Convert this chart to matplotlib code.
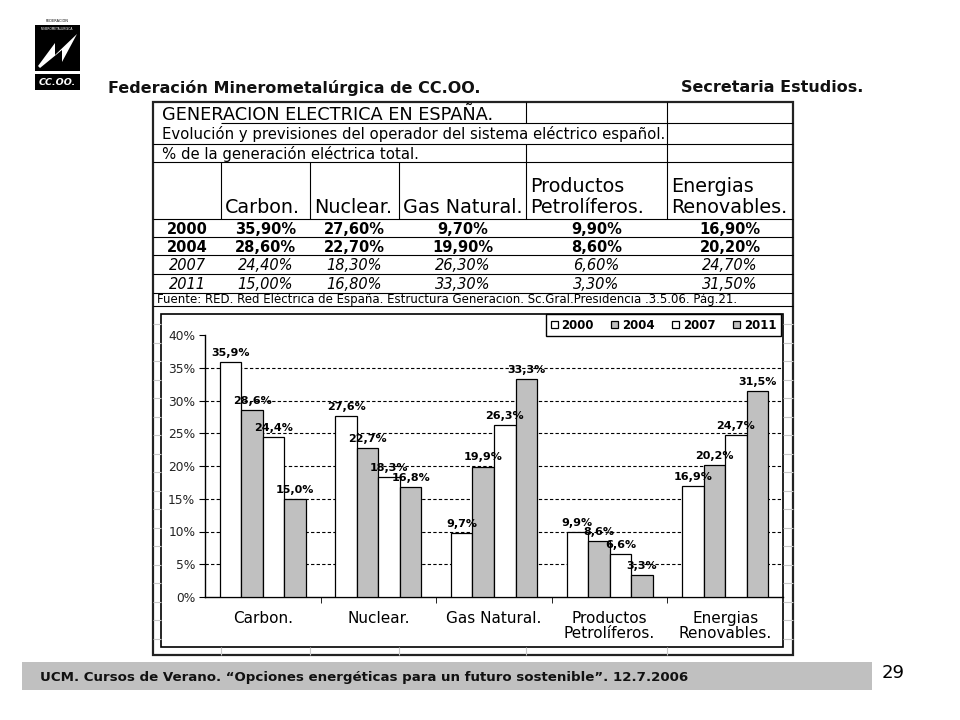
import matplotlib
matplotlib.use('Agg')
import matplotlib.pyplot as plt
import matplotlib.patches as patches
import numpy as np

# ==============================================================================
# DATOS
# ==============================================================================
categorias = ['Carbon.', 'Nuclear.', 'Gas Natural.', 'Productos\nPetrolíferos.', 'Energias\nRenovables.']
anios = ['2000', '2004', '2007', '2011']
v2000 = [35.9, 27.6, 9.7, 9.9, 16.9]
v2004 = [28.6, 22.7, 19.9, 8.6, 20.2]
v2007 = [24.4, 18.3, 26.3, 6.6, 24.7]
v2011 = [15.0, 16.8, 33.3, 3.3, 31.5]
series = [v2000, v2004, v2007, v2011]
colores = ['white', '#c0c0c0', 'white', '#c0c0c0']
yticks = [0, 5, 10, 15, 20, 25, 30, 35, 40]

titulo = 'GENERACION ELECTRICA EN ESPAÑA.'
subtitulo = 'Evolución y previsiones del operador del sistema eléctrico español.'
subtitulo2 = '% de la generación eléctrica total.'
fuente = 'Fuente: RED. Red Eléctrica de España. Estructura Generacion. Sc.Gral.Presidencia .3.5.06. Pág.21.'
cabecera = 'Federación Minerometalúrgica de CC.OO.'
secretaria = 'Secretaria Estudios.'
pie = 'UCM. Cursos de Verano. “Opciones energéticas para un futuro sostenible”. 12.7.2006'
pagina = '29'

def fmt(v, dec):
    return f'{v:.{dec}f}'.replace('.', ',') + '%'

# ==============================================================================
# FIGURA Y FONDO (coordenadas en pixeles)
# ==============================================================================
fig = plt.figure(figsize=(9.6, 7.2), dpi=100)
bg = fig.add_axes([0, 0, 1, 1])
bg.set_xlim(0, 960)
bg.set_ylim(720, 0)
bg.axis('off')

def hline(y, x0, x1, c='black', lw=0.8):
    bg.plot([x0, x1], [y, y], color=c, lw=lw, solid_capstyle='butt')

def vline(x, y0, y1, c='black', lw=0.8):
    bg.plot([x, x], [y0, y1], color=c, lw=lw, solid_capstyle='butt')

# logo
bg.text(57, 21, 'FEDERACION', fontsize=2.5, ha='center', va='center', color='black')
bg.add_patch(patches.Rectangle((35, 25), 45, 46, facecolor='black', edgecolor='none'))
bg.text(57, 29, 'MINEROMETALURGICA', fontsize=2.2, ha='center', va='center', color='white')
rayo = [(38, 66), (55, 43), (55, 55), (77, 34), (62, 62), (62, 50), (40, 68)]
bg.add_patch(patches.Polygon(rayo, closed=True, facecolor='white', edgecolor='none'))
bg.add_patch(patches.Rectangle((35, 74), 45, 16, facecolor='black', edgecolor='none'))
bg.text(57, 82.5, 'CC.OO.', fontsize=6.8, weight='bold', style='italic', ha='center', va='center', color='white')

# cabecera
bg.text(108, 88, cabecera, fontsize=11.5, weight='bold', ha='left', va='center', color='#111111')
bg.text(863, 88, secretaria, fontsize=11.5, weight='bold', ha='right', va='center', color='#111111')

# pie
bg.add_patch(patches.Rectangle((22, 662), 850, 28, facecolor='#c0c0c0', edgecolor='none'))
bg.text(40, 677, pie, fontsize=9.6, weight='bold', ha='left', va='center', color='#111111')
bg.text(893, 673, pagina, fontsize=13, ha='center', va='center', color='black')

# ==============================================================================
# TABLA
# ==============================================================================
L, R = 153, 793
cols = [L, 221, 310, 399, 526, 667, R]
filas = [102, 123, 144, 162, 219, 237, 255, 274, 293, 306]

# lineas de celda excel en margenes del grafico
for y in np.arange(324, 647, 18.5):
    hline(y, L, 161, c='#c8c8c8')
    hline(y, 783, R, c='#c8c8c8')
for x in cols[1:-1]:
    vline(x, 647, 655, c='#c8c8c8')

hline(filas[1], 221, R)
for y in filas[2:-1]:
    hline(y, L, R)
hline(filas[-1], L, R)
for x in [526, 667]:
    vline(x, filas[0], filas[1])
vline(667, filas[1], filas[2])
vline(526, filas[2], filas[3])
vline(667, filas[2], filas[3])
for x in cols[1:-1]:
    vline(x, filas[3], filas[4])

# marco exterior
bg.add_patch(patches.Rectangle((L, 102), R - L, 553, facecolor='none', edgecolor='#222222', lw=1.6))

bg.text(162, 114.5, titulo, fontsize=12.8, ha='left', va='center')
bg.text(162, 134, subtitulo, fontsize=10.7, ha='left', va='center')
bg.text(162, 154, subtitulo2, fontsize=10.7, ha='left', va='center')

for i, cat in enumerate(categorias):
    bg.text(cols[i + 1] + 4, 217, cat, fontsize=13.8, ha='left', va='bottom', linespacing=1.1)

centros = [(cols[i] + cols[i + 1]) / 2 for i in range(len(cols) - 1)]
for j, anio in enumerate(anios):
    yc = (filas[4 + j] + filas[5 + j]) / 2 + 1
    estilo = dict(weight='bold') if j < 2 else dict(style='italic')
    bg.text(centros[0], yc, anio, fontsize=10.5, ha='center', va='center', **estilo)
    for i, v in enumerate(series[j]):
        bg.text(centros[i + 1], yc, fmt(v, 2), fontsize=10.5, ha='center', va='center', **estilo)

bg.text(157, 300, fuente, fontsize=8.5, ha='left', va='center')

# caja del grafico
bg.add_patch(patches.Rectangle((161, 314), 622, 333, facecolor='white', edgecolor='black', lw=1.2))

# ==============================================================================
# GRAFICO DE BARRAS
# ==============================================================================
ax = fig.add_axes([205 / 960, 1 - 597 / 720, (783 - 205) / 960, (597 - 335) / 720])
ax.patch.set_alpha(0)
x = np.arange(len(categorias))
w = 0.186
for k, (vals, col, anio) in enumerate(zip(series, colores, anios)):
    pos = x + (k - 1.5) * w
    ax.bar(pos, vals, width=w, color=col, edgecolor='black', linewidth=0.9, label=anio, zorder=3)
    for p, v in zip(pos, vals):
        ax.annotate(fmt(v, 1), (p, v), xytext=(0, 3), textcoords='offset points',
                    ha='center', va='bottom', fontsize=8, weight='bold', zorder=5)

ax.set_xlim(-0.5, len(categorias) - 0.5)
ax.set_ylim(0, 40)
ax.set_yticks(yticks)
ax.set_yticklabels([f'{t}%' for t in yticks], fontsize=8.8, color='#222222')
ax.set_xticks(x)
ax.set_xticklabels(categorias, fontsize=11, linespacing=1.05)
ax.set_xticks(np.arange(0.5, len(categorias) - 0.5, 1), minor=True)
ax.tick_params(axis='x', which='major', length=0, pad=10)
ax.tick_params(axis='x', which='minor', length=4, direction='out')
ax.tick_params(axis='y', length=4, direction='out', pad=3)
for t in yticks[1:-1]:
    ax.axhline(t, color='black', lw=0.8, ls=(0, (3, 2)), zorder=1)
for s in ['top', 'right']:
    ax.spines[s].set_visible(False)
ax.spines['left'].set_linewidth(1)
ax.spines['bottom'].set_linewidth(1)

leg = ax.legend(ncol=4, loc='upper right', bbox_to_anchor=(781 / 960, 1 - 314 / 720),
                bbox_transform=fig.transFigure, frameon=True, fancybox=False, borderaxespad=0,
                handlelength=0.6, handleheight=0.6, handletextpad=0.3, columnspacing=1.5,
                borderpad=0.4, prop={'weight': 'bold', 'size': 8.5})
leg.get_frame().set_edgecolor('black')
leg.get_frame().set_linewidth(1)
leg.get_frame().set_alpha(1)

plt.savefig('out.png', dpi=100)
